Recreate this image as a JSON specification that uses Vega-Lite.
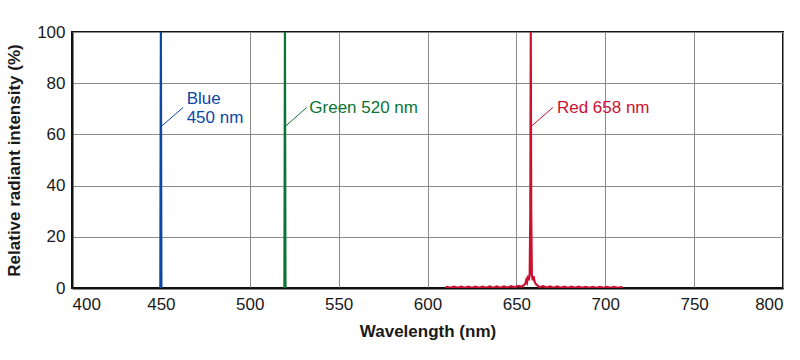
{
  "$schema": "https://vega.github.io/schema/vega-lite/v6.json",
  "width": 711,
  "height": 256,
  "autosize": {"type": "none"},
  "padding": {"left": 72, "top": 32, "right": 17, "bottom": 72},
  "background": "white",
  "config": {
    "font": "Liberation Sans",
    "view": {"stroke": "#111111", "strokeWidth": 2},
    "axis": {
      "labelFont": "Liberation Sans",
      "labelFontSize": 17,
      "labelColor": "#1a1a1a",
      "titleFont": "Liberation Sans",
      "titleFontSize": 17,
      "titleFontWeight": "bold",
      "titleColor": "#1a1a1a",
      "gridColor": "#8c8c8c",
      "gridWidth": 1,
      "gridOpacity": 1,
      "domainColor": "#111111",
      "domainWidth": 2,
      "ticks": false
    }
  },
  "datasets": {
    "spectrum": [
      {"series": "Blue", "wl": 449.7, "val": 0},
      {"series": "Blue", "wl": 450.0, "val": 100},
      {"series": "Blue", "wl": 450.3, "val": 0},
      {"series": "Green", "wl": 519.5, "val": 0},
      {"series": "Green", "wl": 519.8, "val": 100},
      {"series": "Green", "wl": 520.1, "val": 0},
      {"series": "Red", "wl": 610, "val": 0},
      {"series": "Red", "wl": 611, "val": 0.4},
      {"series": "Red", "wl": 613, "val": 0.1},
      {"series": "Red", "wl": 615, "val": 0.5},
      {"series": "Red", "wl": 617, "val": 0.1},
      {"series": "Red", "wl": 619, "val": 0.5},
      {"series": "Red", "wl": 621, "val": 0.1},
      {"series": "Red", "wl": 623, "val": 0.5},
      {"series": "Red", "wl": 625, "val": 0.1},
      {"series": "Red", "wl": 627, "val": 0.5},
      {"series": "Red", "wl": 629, "val": 0.1},
      {"series": "Red", "wl": 631, "val": 0.5},
      {"series": "Red", "wl": 633, "val": 0.1},
      {"series": "Red", "wl": 635, "val": 0.6},
      {"series": "Red", "wl": 637, "val": 0.1},
      {"series": "Red", "wl": 639, "val": 0.6},
      {"series": "Red", "wl": 641, "val": 0.1},
      {"series": "Red", "wl": 643, "val": 0.6},
      {"series": "Red", "wl": 645, "val": 0.2},
      {"series": "Red", "wl": 647, "val": 0.7},
      {"series": "Red", "wl": 649, "val": 0.3},
      {"series": "Red", "wl": 651, "val": 0.8},
      {"series": "Red", "wl": 653, "val": 0.5},
      {"series": "Red", "wl": 654, "val": 1.0},
      {"series": "Red", "wl": 655, "val": 1.6},
      {"series": "Red", "wl": 655.5, "val": 3.0},
      {"series": "Red", "wl": 656, "val": 2.2},
      {"series": "Red", "wl": 656.5, "val": 4.8},
      {"series": "Red", "wl": 657, "val": 3.0},
      {"series": "Red", "wl": 657.5, "val": 5.5},
      {"series": "Red", "wl": 657.85, "val": 30},
      {"series": "Red", "wl": 658.1, "val": 100},
      {"series": "Red", "wl": 658.35, "val": 30},
      {"series": "Red", "wl": 658.7, "val": 5.2},
      {"series": "Red", "wl": 659.2, "val": 3.0},
      {"series": "Red", "wl": 659.7, "val": 4.6},
      {"series": "Red", "wl": 660.3, "val": 2.4},
      {"series": "Red", "wl": 661, "val": 1.5},
      {"series": "Red", "wl": 662, "val": 0.9},
      {"series": "Red", "wl": 663, "val": 0.3},
      {"series": "Red", "wl": 665, "val": 0.7},
      {"series": "Red", "wl": 667, "val": 0.2},
      {"series": "Red", "wl": 669, "val": 0.6},
      {"series": "Red", "wl": 671, "val": 0.1},
      {"series": "Red", "wl": 673, "val": 0.6},
      {"series": "Red", "wl": 675, "val": 0.1},
      {"series": "Red", "wl": 677, "val": 0.5},
      {"series": "Red", "wl": 679, "val": 0.1},
      {"series": "Red", "wl": 681, "val": 0.5},
      {"series": "Red", "wl": 683, "val": 0.1},
      {"series": "Red", "wl": 685, "val": 0.5},
      {"series": "Red", "wl": 687, "val": 0.1},
      {"series": "Red", "wl": 689, "val": 0.4},
      {"series": "Red", "wl": 691, "val": 0.1},
      {"series": "Red", "wl": 693, "val": 0.4},
      {"series": "Red", "wl": 695, "val": 0.1},
      {"series": "Red", "wl": 697, "val": 0.4},
      {"series": "Red", "wl": 699, "val": 0.1},
      {"series": "Red", "wl": 701, "val": 0.4},
      {"series": "Red", "wl": 703, "val": 0.1},
      {"series": "Red", "wl": 705, "val": 0.4},
      {"series": "Red", "wl": 707, "val": 0.1},
      {"series": "Red", "wl": 709, "val": 0.3},
      {"series": "Red", "wl": 710, "val": 0}
    ],
    "leaders": [
      {"series": "Blue", "x1": 450.0, "y1": 63, "x2": 462.5, "y2": 70.5},
      {"series": "Green", "x1": 519.8, "y1": 63, "x2": 532.0, "y2": 70.5},
      {"series": "Red", "x1": 658.1, "y1": 63, "x2": 670.5, "y2": 70.5}
    ],
    "labels": [
      {"series": "Blue", "lx": 464.5, "ly": 73.8, "label": "Blue"},
      {"series": "Blue", "lx": 464.5, "ly": 66.4, "label": "450 nm"},
      {"series": "Green", "lx": 533.5, "ly": 70.3, "label": "Green 520 nm"},
      {"series": "Red", "lx": 672.8, "ly": 70.3, "label": "Red 658 nm"}
    ]
  },
  "layer": [
    {
      "data": {"name": "spectrum"},
      "mark": {"type": "line", "interpolate": "linear", "clip": true},
      "encoding": {
        "x": {
          "field": "wl", "type": "quantitative",
          "scale": {"domain": [400, 800], "nice": false},
          "axis": {"values": [400, 450, 500, 550, 600, 650, 700, 750, 800], "title": "Wavelength (nm)", "labelPadding": 8, "titlePadding": 11, "grid": true}
        },
        "y": {
          "field": "val", "type": "quantitative",
          "scale": {"domain": [0, 100], "nice": false},
          "axis": {"values": [0, 20, 40, 60, 80, 100], "title": "Relative radiant intensity (%)", "labelPadding": 7, "titlePadding": 13, "grid": true}
        },
        "color": {
          "field": "series", "type": "nominal",
          "scale": {"domain": ["Blue", "Green", "Red"], "range": ["#0d47a8", "#0a7434", "#cc1130"]},
          "legend": null
        },
        "strokeWidth": {
          "field": "series", "type": "nominal",
          "scale": {"domain": ["Blue", "Green", "Red"], "range": [2.2, 2.2, 1.3]},
          "legend": null
        },
        "detail": {"field": "series"}
      }
    },
    {
      "data": {"name": "leaders"},
      "mark": {"type": "rule", "strokeWidth": 1},
      "encoding": {
        "x": {"field": "x1", "type": "quantitative"},
        "y": {"field": "y1", "type": "quantitative"},
        "x2": {"field": "x2"},
        "y2": {"field": "y2"},
        "color": {"field": "series", "type": "nominal", "legend": null}
      }
    },
    {
      "data": {"name": "labels"},
      "mark": {"type": "text", "align": "left", "baseline": "middle", "fontSize": 17, "font": "Liberation Sans"},
      "encoding": {
        "x": {"field": "lx", "type": "quantitative"},
        "y": {"field": "ly", "type": "quantitative"},
        "text": {"field": "label"},
        "color": {"field": "series", "type": "nominal", "legend": null}
      }
    }
  ]
}
